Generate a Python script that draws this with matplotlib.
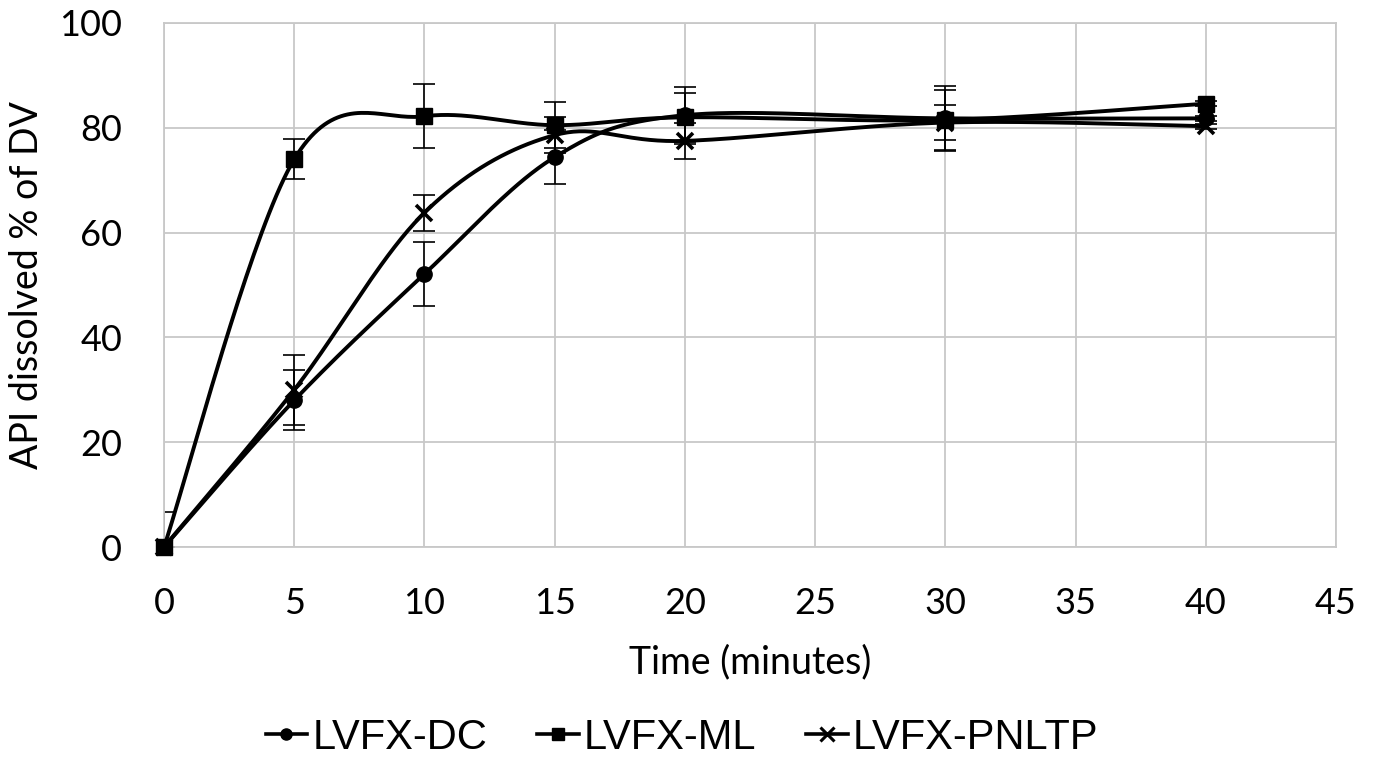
import matplotlib

matplotlib.use("Agg")
import matplotlib.pyplot as plt
import numpy as np
from matplotlib.lines import Line2D

# dissolution data
time_min = [0, 5, 10, 15, 20, 30, 40]
dc = [0, 28.0, 52.1, 74.4, 82.4, 81.8, 81.8]
dc_err = [0.0, 5.7, 6.1, 5.1, 5.4, 6.2, 0.5]
ml = [0, 74.0, 82.2, 80.5, 82.0, 81.5, 84.6]
ml_err = [6.7, 3.8, 6.1, 4.4, 4.7, 5.8, 0.5]
pnltp = [0, 30.0, 63.8, 78.6, 77.5, 81.0, 80.3]
pnltp_err = [0.0, 6.7, 3.4, 3.5, 3.5, 3.4, 0.5]

labels = ["LVFX-DC", "LVFX-ML", "LVFX-PNLTP"]
markers = ["o", "s", "x"]

AX_FONT = ["Lato", "DejaVu Sans"]
LEG_FONT = ["Liberation Sans", "DejaVu Sans"]


def smooth(x, y, n=40):
    # Excel-style smoothed line: cubic Bezier with Catmull-Rom control points
    P = np.column_stack([np.asarray(x, float), np.asarray(y, float)])
    out = []
    t = np.linspace(0, 1, n)[:, None]
    for i in range(len(P) - 1):
        p0, p3 = P[i], P[i + 1]
        pm = P[i - 1] if i > 0 else P[i]
        pp = P[i + 2] if i + 2 < len(P) else P[i + 1]
        p1 = p0 + (p3 - pm) / 6.0
        p2 = p3 - (pp - p0) / 6.0
        seg = ((1 - t) ** 3) * p0 + 3 * ((1 - t) ** 2) * t * p1 \
            + 3 * (1 - t) * t ** 2 * p2 + t ** 3 * p3
        out.append(seg if i == 0 else seg[1:])
    s = np.vstack(out)
    return s[:, 0], s[:, 1]


fig = plt.figure(figsize=(13.75, 7.59), dpi=100)
ax = fig.add_axes([0.1193, 0.2793, 0.9716 - 0.1193, 0.9697 - 0.2793])

for ys, err, mk in zip([dc, ml, pnltp], [dc_err, ml_err, pnltp_err], markers):
    sx, sy = smooth(time_min, ys)
    ax.plot(sx, sy, color="black", lw=2.8, zorder=3, clip_on=False)
    ax.errorbar(time_min, ys, yerr=err, fmt="none", ecolor="black",
                elinewidth=1.2, capsize=8, capthick=1.2, zorder=2)
    if mk == "x":
        ax.plot(time_min, ys, ls="none", marker=mk, ms=12, mew=2.6,
                color="black", zorder=4, clip_on=False)
    else:
        ax.plot(time_min, ys, ls="none", marker=mk, ms=11,
                color="black", zorder=4, clip_on=False)

ax.set_xlim(0, 45)
ax.set_ylim(0, 100)
ax.set_xticks(range(0, 46, 5))
ax.set_yticks(range(0, 101, 20))
ax.grid(True, color="#c8c8c8", lw=1.3)
ax.set_axisbelow(True)
for side in ["top", "right", "left", "bottom"]:
    ax.spines[side].set_color("#c8c8c8")
    ax.spines[side].set_linewidth(1.3)
ax.tick_params(length=0)
ax.tick_params(axis="x", pad=29)
ax.tick_params(axis="y", pad=30)
for lab in ax.get_xticklabels() + ax.get_yticklabels():
    lab.set_fontfamily(AX_FONT)
    lab.set_fontsize(26)
ax.set_xlabel("Time (minutes)", fontsize=27, family=AX_FONT, labelpad=17)
ax.set_ylabel("API dissolved % of DV", fontsize=27, family=AX_FONT, labelpad=10)

handles = []
for mk in markers:
    if mk == "x":
        h = Line2D([], [], color="black", lw=2.6, marker=mk, ms=10, mew=2.2)
    else:
        h = Line2D([], [], color="black", lw=2.6, marker=mk, ms=8)
    handles.append(h)
fig.legend(handles, labels, loc="center", bbox_to_anchor=(0.496, 0.028),
           ncol=3, frameon=False, handlelength=1.0, handletextpad=0.12,
           columnspacing=1.2, prop={"family": LEG_FONT, "size": 30})

fig.savefig("out.png", dpi=100)
